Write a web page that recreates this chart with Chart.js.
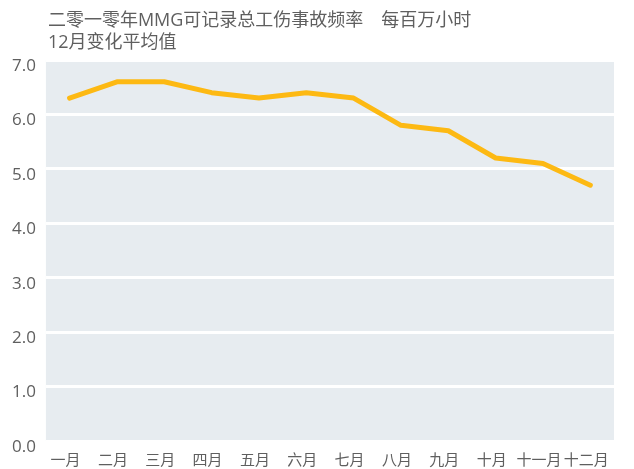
<!DOCTYPE html>
<html>
<head>
<meta charset="utf-8">
<script src="https://cdn.jsdelivr.net/npm/chart.js@4/dist/chart.umd.min.js"></script>
<style>
  html, body { margin: 0; padding: 0; background: #ffffff; }
  #wrap { width: 634px; height: 469px; }
</style>
</head>
<body>
<div id="wrap"><canvas id="chart" width="634" height="469"></canvas></div>
<script>
// chart data
var titleLines = ['二零一零年MMG可记录总工伤事故频率　每百万小时', '12月变化平均值'];
var months = ['一月', '二月', '三月', '四月', '五月', '六月', '七月', '八月', '九月', '十月', '十一月', '十二月'];
var rate = [6.3, 6.6, 6.6, 6.4, 6.3, 6.4, 6.3, 5.8, 5.7, 5.2, 5.1, 4.7];
var yMin = 0;
var yMax = 7;

var fontFamily = '"Open Sans", "Noto Sans CJK SC", sans-serif';
var textColor = '#5f5f5f';

// fill the plot area before the grid is drawn
var plotBackground = {
  id: 'plotBackground',
  beforeDraw: function(chart) {
    var a = chart.chartArea;
    var c = chart.ctx;
    c.save();
    c.fillStyle = '#e7ecf0';
    c.fillRect(a.left, a.top, a.right - a.left, a.bottom - a.top);
    c.restore();
  }
};

// two line heading, left aligned with the plot
var heading = {
  id: 'heading',
  afterDraw: function(chart) {
    var c = chart.ctx;
    c.save();
    c.fillStyle = textColor;
    c.font = '18px ' + fontFamily;
    c.textBaseline = 'middle';
    c.textAlign = 'left';
    for (var i = 0; i < titleLines.length; i++) {
      c.fillText(titleLines[i], chart.chartArea.left + 2, 21 + i * 22);
    }
    c.restore();
  }
};

var ctx = document.getElementById('chart').getContext('2d');
var myChart = new Chart(ctx, {
  type: 'line',
  data: {
    labels: months,
    datasets: [{
      label: '频率',
      data: rate,
      borderColor: '#fdb913',
      borderWidth: 5,
      borderCapStyle: 'round',
      borderJoinStyle: 'round',
      pointRadius: 0,
      tension: 0,
      fill: false
    }]
  },
  options: {
    responsive: false,
    animation: false,
    layout: {
      padding: { top: 60, left: 2, right: 20, bottom: -12 }
    },
    plugins: {
      legend: { display: false },
      tooltip: { enabled: false }
    },
    scales: {
      x: {
        offset: true,
        grid: { display: false, drawTicks: false },
        border: { display: false },
        ticks: {
          color: textColor,
          font: { family: fontFamily, size: 15 },
          padding: 11,
          labelOffset: -4,
          maxRotation: 0,
          autoSkip: false
        }
      },
      y: {
        min: yMin,
        max: yMax,
        grid: { color: '#ffffff', lineWidth: 3, drawTicks: false },
        border: { display: false },
        ticks: {
          stepSize: 1,
          color: textColor,
          font: { family: fontFamily, size: 17 },
          padding: 10,
          labelOffset: 6,
          callback: function(v) { return v.toFixed(1); }
        }
      }
    }
  },
  plugins: [plotBackground, heading]
});
</script>
</body>
</html>
